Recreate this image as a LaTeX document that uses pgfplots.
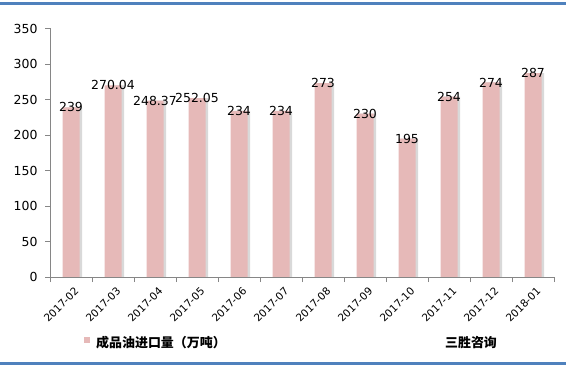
\documentclass[border=0pt]{standalone}
\usepackage{pgfplots}
\pgfplotsset{compat=1.18}
\usepackage{fontspec}
\setmainfont{DejaVu Sans}
\newfontfamily\cjk{Noto Sans CJK SC}
\definecolor{barc}{HTML}{E6B9B8}
\definecolor{axc}{HTML}{868686}
\definecolor{blu}{HTML}{4F81BD}
\begin{document}
\begin{tikzpicture}[x=1bp,y=1bp]
\path[use as bounding box] (0,0) rectangle (566,368);
\fill[blu] (0,363) rectangle (566,365.5);
\fill[blu] (0,3) rectangle (566,6);
\begin{axis}[
  at={(50bp,91bp)}, anchor=south west,
  scale only axis, width=504bp, height=248.5bp,
  xmin=-0.5, xmax=11.5, ymin=0, ymax=350,
  axis lines*=left,
  axis line style={draw=axc,-},
  tick style={draw=axc},
  tick align=outside,
  major tick length=5bp,
  axis on top,
  ytick={0,50,...,350},
  xtick={-0.5,0.5,...,11.5},
  x tick label as interval,
  xticklabels={2017-02,2017-03,2017-04,2017-05,2017-06,2017-07,2017-08,2017-09,2017-10,2017-11,2017-12,2018-01},
  x tick label style={rotate=45, anchor=north east, font=\fontsize{10.5}{10.5}\selectfont, inner sep=1pt, yshift=-4bp},
  y tick label style={font=\fontsize{12.5}{12.5}\selectfont, xshift=-4bp},
  /pgf/number format/assume math mode=true,
  ybar, bar width=17bp,
  clip=false,
]
\addplot[fill=gray!30, draw=none, bar shift=2.5bp] coordinates {(0,239) (1,270.04) (2,248.37) (3,252.05) (4,234) (5,234) (6,273) (7,230) (8,195) (9,254) (10,274) (11,287)};
\addplot[fill=barc, draw=none, bar shift=0bp,
  nodes near coords,
  point meta=explicit symbolic,
  every node near coord/.append style={anchor=center, font=\fontsize{12.5}{12.5}\selectfont, text=black, inner sep=0pt}]
  coordinates {(0,239)[239] (1,270.04)[270.04] (2,248.37)[248.37] (3,252.05)[252.05] (4,234)[234] (5,234)[234] (6,273)[273] (7,230)[230] (8,195)[195] (9,254)[254] (10,274)[274] (11,287)[287]};
\end{axis}
\fill[barc] (84,25.5) rectangle (90,31.5);
\node[anchor=west, font=\cjk\bfseries\fontsize{13}{13}\selectfont, inner sep=0pt] at (96,25) {成品油进口量（万吨）};
\node[anchor=center, font=\cjk\bfseries\fontsize{13}{13}\selectfont, inner sep=0pt] at (471,25) {三胜咨询};
\end{tikzpicture}
\end{document}
